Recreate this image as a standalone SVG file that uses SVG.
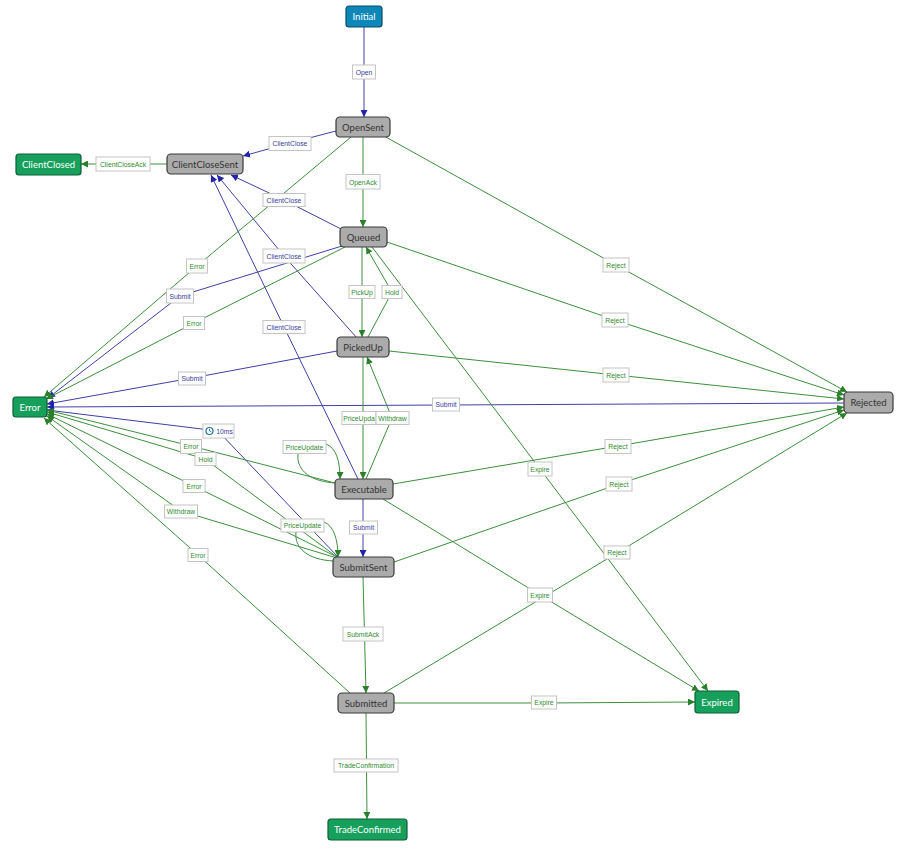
<svg xmlns="http://www.w3.org/2000/svg" width="900" height="855" viewBox="0 0 900 855">
<style>
.bg{fill:#ffffff}
.e{fill:none;stroke-width:1}
.b{stroke:#4040a6}
.g{stroke:#3d8f3d}
.mb{marker-end:url(#ab)}
.mg{marker-end:url(#ag)}
.lb rect{fill:#ffffff;stroke:#c4c4c4;stroke-width:1}
.lb text{font-family:"Liberation Sans",Arial,sans-serif;font-size:6.8px;text-anchor:middle;dominant-baseline:central}
.tb{fill:#3b3ba0}
.tg{fill:#2f8a2f}
.n rect{stroke-width:1.2}
.n text{font-family:Lato,"Noto Sans",sans-serif;font-size:9.5px;text-anchor:middle;dominant-baseline:central}
.gray rect{fill:#ababab;stroke:#3a3a3a}
.gray text{fill:#333333}
.grn rect{fill:#17a05c;stroke:#0c5f36}
.grn text{fill:#ffffff}
.blu rect{fill:#0d87b8;stroke:#0b4c69}
.blu text{fill:#ffffff}
</style>
<defs>
<marker id="ab" markerWidth="8" markerHeight="7" refX="7" refY="3.5" orient="auto" markerUnits="userSpaceOnUse"><path d="M0,0 L7,3.5 L0,7 z" fill="#2323a8"/></marker>
<marker id="ag" markerWidth="8" markerHeight="7" refX="7" refY="3.5" orient="auto" markerUnits="userSpaceOnUse"><path d="M0,0 L7,3.5 L0,7 z" fill="#2a7f2a"/></marker>
</defs>
<rect class="bg" x="0" y="0" width="900" height="855"/>
<g id="connectors">
<path class="e b mb" d="M364,27 L364,117"/>
<path class="e b mb" d="M336,131 L290,143 L243,156"/>
<path class="e b mb" d="M341,229 L284,200 L231,175"/>
<path class="e b mb" d="M357,338 L284,256 L217,175"/>
<path class="e b mb" d="M358,479 L284,327 L211,175"/>
<path class="e b mb" d="M342,246 L180,296 L48,398"/>
<path class="e b mb" d="M337,351 L192,378 L47,404"/>
<path class="e b mb" d="M844,403 L446,405 L47,407"/>
<path class="e b mb" d="M338,557 L218,431 L47,410"/>
<path class="e b mb" d="M363,499 L363,557"/>
<path class="e g mg" d="M167,164 L81,164"/>
<path class="e g mg" d="M363,137 L363,227"/>
<path class="e g mg" d="M351,137 L197,266 L44,397"/>
<path class="e g mg" d="M345,247 L194,323 L46,399"/>
<path class="e g mg" d="M362,247 L362,337"/>
<path class="e g mg" d="M368,337 L392,292 L366,247"/>
<path class="e g mg" d="M389,351 L616,375 L844,399"/>
<path class="e g mg" d="M387,242 L615,320 L844,395"/>
<path class="e g mg" d="M384,136 L616,265 L847,392"/>
<path class="e g mg" d="M393,484 L618,446 L844,407"/>
<path class="e g mg" d="M394,562 L619,484 L844,410"/>
<path class="e g mg" d="M384,693 L617,553 L847,413"/>
<path class="e g mg" d="M372,247 L540,469 L708,691"/>
<path class="e g mg" d="M383,499 L540,595 L699,691"/>
<path class="e g mg" d="M394,703 L544,703 L695,702"/>
<path class="e g mg" d="M363,577 L366,693"/>
<path class="e g mg" d="M366,713 L367,819"/>
<path class="e g mg" d="M350,693 L198,555 L44,418"/>
<path class="e g mg" d="M363,357 L363,479"/>
<path class="e g mg" d="M366,479 L392,418 L367,357"/>
<path class="e g mg" d="M335,483 L191,446 L47,410"/>
<path class="e g mg" d="M337,557 L205,459 L47,412"/>
<path class="e g mg" d="M337,557 L194,486 L47,414"/>
<path class="e g mg" d="M337,558 L181,511 L47,416"/>
<path class="e g" d="M336,483 C312,482 296,471 298,454"/>
<path class="e g mg" d="M326,444 C336,448 340,460 340,479"/>
<path class="e g" d="M334,561 C308,560 294,548 296,532"/>
<path class="e g mg" d="M324,522 C334,526 338,540 338,557"/>
</g>
<g id="edge-labels">
<g class="lb"><rect x="352.5" y="65" width="23" height="14"/><text class="tb" x="364" y="72">Open</text></g>
<g class="lb"><rect x="269" y="136.5" width="42" height="14"/><text class="tb" x="290" y="143.5">ClientClose</text></g>
<g class="lb"><rect x="96" y="157" width="54" height="14"/><text class="tg" x="123" y="164">ClientCloseAck</text></g>
<g class="lb"><rect x="346" y="174.5" width="34" height="14.5"/><text class="tg" x="363" y="182">OpenAck</text></g>
<g class="lb"><rect x="186.5" y="259" width="21" height="14"/><text class="tg" x="197" y="266">Error</text></g>
<g class="lb"><rect x="263" y="193.5" width="42" height="13"/><text class="tb" x="284" y="200">ClientClose</text></g>
<g class="lb"><rect x="166.5" y="289" width="27" height="14"/><text class="tb" x="180" y="296">Submit</text></g>
<g class="lb"><rect x="183.5" y="316.5" width="21" height="13"/><text class="tg" x="194" y="323">Error</text></g>
<g class="lb"><rect x="349" y="285.5" width="26" height="13"/><text class="tg" x="362" y="292">PickUp</text></g>
<g class="lb"><rect x="382" y="285.5" width="20" height="13"/><text class="tg" x="392" y="292">Hold</text></g>
<g class="lb"><rect x="263" y="249" width="42" height="14"/><text class="tb" x="284" y="256">ClientClose</text></g>
<g class="lb"><rect x="263" y="320.5" width="42" height="13"/><text class="tb" x="284" y="327">ClientClose</text></g>
<g class="lb"><rect x="178.5" y="372" width="27" height="13"/><text class="tb" x="192" y="378.5">Submit</text></g>
<g class="lb"><rect x="603" y="258" width="26" height="14"/><text class="tg" x="616" y="265">Reject</text></g>
<g class="lb"><rect x="602" y="313" width="26" height="14"/><text class="tg" x="615" y="320">Reject</text></g>
<g class="lb"><rect x="603" y="368" width="26" height="14"/><text class="tg" x="616" y="375">Reject</text></g>
<g class="lb"><rect x="342" y="411.5" width="34" height="13"/><text class="tg" x="359" y="418">PriceUpda</text></g>
<g class="lb"><rect x="376" y="411.5" width="33" height="13"/><text class="tg" x="392.5" y="418">Withdraw</text></g>
<g class="lb"><rect x="432.5" y="398" width="27" height="13"/><text class="tb" x="446" y="404.5">Submit</text></g>
<g class="lb"><rect x="203" y="424" width="31" height="14"/><circle cx="209.5" cy="431" r="3.5" fill="none" stroke="#1d6f9f" stroke-width="1.2"/><path d="M209.5,428.8 L209.5,431 L211.3,431.8" fill="none" stroke="#1d6f9f" stroke-width="0.8"/><text class="tb" x="224.5" y="431">10ms</text></g>
<g class="lb"><rect x="180.5" y="439.5" width="21" height="14"/><text class="tg" x="191" y="446.5">Error</text></g>
<g class="lb"><rect x="195" y="452.5" width="21" height="13"/><text class="tg" x="205.5" y="459">Hold</text></g>
<g class="lb"><rect x="283" y="440.5" width="43" height="13"/><text class="tg" x="304.5" y="447">PriceUpdate</text></g>
<g class="lb"><rect x="605" y="439.5" width="26" height="14"/><text class="tg" x="618" y="446.5">Reject</text></g>
<g class="lb"><rect x="183" y="479.5" width="22" height="13"/><text class="tg" x="194" y="486">Error</text></g>
<g class="lb"><rect x="606" y="477" width="26" height="14"/><text class="tg" x="619" y="484">Reject</text></g>
<g class="lb"><rect x="528" y="462" width="24" height="14"/><text class="tg" x="540" y="469">Expire</text></g>
<g class="lb"><rect x="164.5" y="505" width="33" height="13"/><text class="tg" x="181" y="511.5">Withdraw</text></g>
<g class="lb"><rect x="281" y="519" width="43" height="13"/><text class="tg" x="302.5" y="525.5">PriceUpdate</text></g>
<g class="lb"><rect x="349.5" y="521" width="28" height="13"/><text class="tb" x="363.5" y="527.5">Submit</text></g>
<g class="lb"><rect x="188" y="548.5" width="20" height="13"/><text class="tg" x="198" y="555">Error</text></g>
<g class="lb"><rect x="604" y="546" width="26" height="13"/><text class="tg" x="617" y="552.5">Reject</text></g>
<g class="lb"><rect x="527.5" y="588" width="25" height="14"/><text class="tg" x="540" y="595">Expire</text></g>
<g class="lb"><rect x="343" y="627" width="40" height="14"/><text class="tg" x="363" y="634">SubmitAck</text></g>
<g class="lb"><rect x="531.5" y="696" width="25" height="13"/><text class="tg" x="544" y="702.5">Expire</text></g>
<g class="lb"><rect x="334" y="759" width="64" height="13"/><text class="tg" x="366" y="765.5">TradeConfirmation</text></g>
</g>
<g id="node-Initial" class="n blu"><rect x="346" y="6" width="36" height="21" rx="3"/><text x="364" y="16.5">Initial</text></g>
<g id="node-OpenSent" class="n gray"><rect x="336" y="117" width="54" height="20" rx="4"/><text x="363" y="127">OpenSent</text></g>
<g id="node-ClientCloseSent" class="n gray"><rect x="167" y="154" width="76" height="20" rx="4"/><text x="205" y="164">ClientCloseSent</text></g>
<g id="node-ClientClosed" class="n grn"><rect x="16" y="154" width="65" height="21" rx="3"/><text x="48.5" y="164.5">ClientClosed</text></g>
<g id="node-Queued" class="n gray"><rect x="340" y="227" width="47" height="20" rx="4"/><text x="363.5" y="237">Queued</text></g>
<g id="node-PickedUp" class="n gray"><rect x="337" y="337" width="52" height="20" rx="4"/><text x="363" y="347">PickedUp</text></g>
<g id="node-Error" class="n grn"><rect x="13" y="397" width="34" height="20" rx="3"/><text x="30" y="407">Error</text></g>
<g id="node-Rejected" class="n gray"><rect x="844" y="392" width="49" height="21" rx="4"/><text x="868.5" y="402.5">Rejected</text></g>
<g id="node-Executable" class="n gray"><rect x="335" y="479" width="58" height="20" rx="4"/><text x="364" y="489">Executable</text></g>
<g id="node-SubmitSent" class="n gray"><rect x="333" y="557" width="61" height="20" rx="4"/><text x="363.5" y="567">SubmitSent</text></g>
<g id="node-Submitted" class="n gray"><rect x="338" y="693" width="56" height="20" rx="4"/><text x="366" y="703">Submitted</text></g>
<g id="node-TradeConfirmed" class="n grn"><rect x="328" y="819" width="79" height="21" rx="3"/><text x="367.5" y="829.5">TradeConfirmed</text></g>
<g id="node-Expired" class="n grn"><rect x="695" y="691" width="44" height="22" rx="3"/><text x="717" y="702">Expired</text></g>
</svg>
